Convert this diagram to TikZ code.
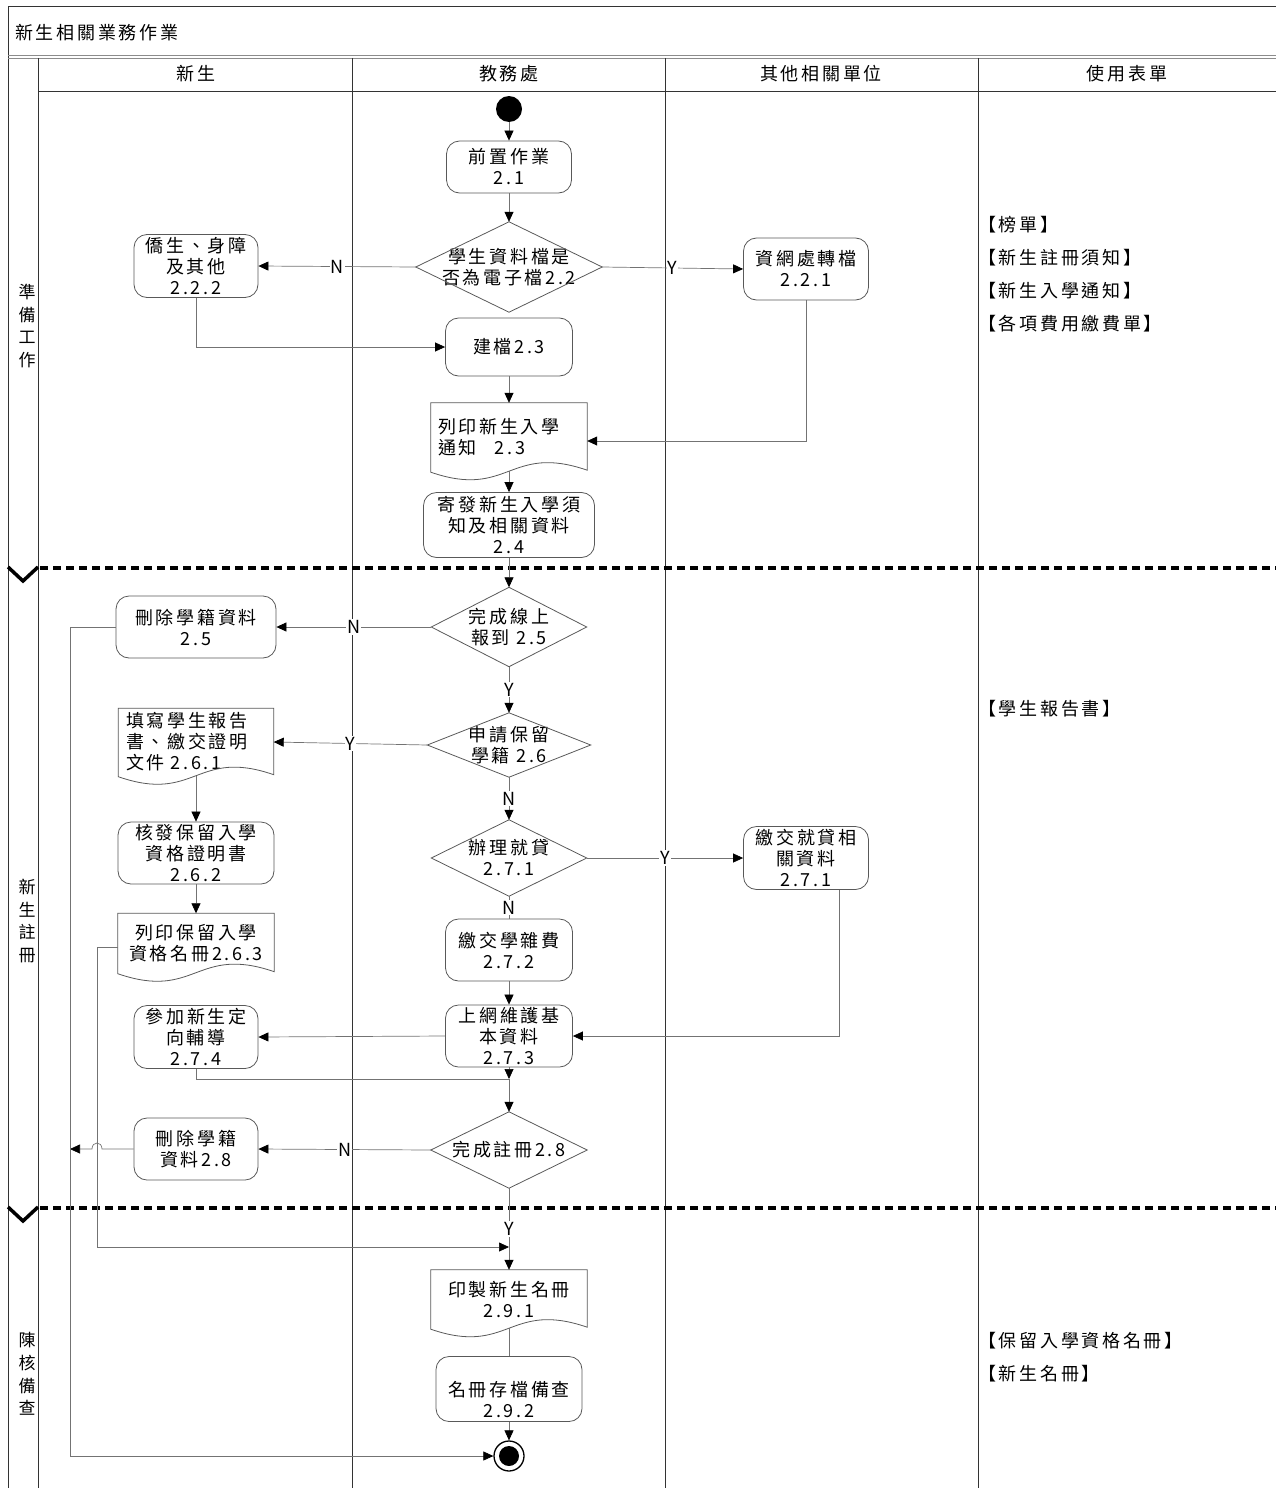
\documentclass[tikz,border=0pt]{standalone}
\usepackage{fontspec}
\setmainfont{Noto Sans CJK TC}[LetterSpace=15]
\usetikzlibrary{arrows.meta,calc}
\newcommand\myfont{\fontsize{18}{21}\selectfont}
\newcommand\lanefont{\fontsize{17}{22.7}\selectfont}
\newcommand\docshape[1]{\draw[shapeln] (#1.south west) -- (#1.north west) -- (#1.north east) -- ($(#1.south east)+(0,-1)$) .. controls ($(#1.south)+(0,-28)$) and ($(#1.south)+(0,28)$) .. ($(#1.south west)+(0,1)$) -- cycle;}
\tikzset{
  frame/.style={draw=black!80, line width=1pt},
  shapeln/.style={draw=black!65, line width=0.8pt},
  box/.style={shapeln, fill=white, rounded corners=13pt, align=center, inner sep=0pt, font=\myfont},
  dia/.style={align=center, inner sep=0pt, font=\myfont},
  docn/.style={align=center, inner sep=0pt, font=\myfont},
  conn/.style={draw=black!55, line width=0.7pt},
  arr/.style={conn, -{Triangle[length=10pt,width=9pt,color=black]}},
  lab/.style={fill=white, inner sep=1pt, font=\myfont},
  head/.style={font=\myfont},
  form/.style={anchor=west, inner sep=0pt, font=\myfont},
  lanelab/.style={align=center, inner sep=0pt, font=\lanefont},
  phase/.style={draw=black, line width=3.5pt, dash pattern=on 8pt off 5pt},
  chev/.style={draw=black, line width=3.5pt},
}
\begin{document}
\begin{tikzpicture}[x=1pt,y=-1pt]
\useasboundingbox (0,0) rectangle (1276,1488);
% frame and lanes
\draw[frame] (8,1488) -- (8,7) -- (1276,7);
\draw[draw=black!45, line width=0.8pt] (8,55.5) -- (1276,55.5);
\draw[draw=black!45, line width=0.8pt] (8,58.5) -- (1276,58.5);
\draw[frame] (38,58) -- (38,1488);
\draw[frame] (38,91) -- (1276,91);
\foreach \x in {352,665,978} \draw[frame] (\x,58) -- (\x,1488);
\node[anchor=west, inner sep=0pt, font=\myfont] (title) at (15,33) {新生相關業務作業};
\node[head] (h1) at (196,74) {新生};
\node[head] (h2) at (509,74) {教務處};
\node[head] (h3) at (821,74) {其他相關單位};
\node[head] (h4) at (1127,74) {使用表單};
\node[lanelab] (p1) at (27,326) {準\\備\\工\\作};
\node[lanelab] (p2) at (27,921) {新\\生\\註\\冊};
\node[lanelab] (p3) at (27,1374) {陳\\核\\備\\查};
\draw[phase] (40,568) -- (1276,568);
\draw[chev] (8,567) -- (23,581) -- (38,567);
\draw[phase] (40,1208) -- (1276,1208);
\draw[chev] (8,1207) -- (23,1221) -- (38,1207);
% forms
\node[form] (f1) at (978,225) {【榜單】};
\node[form] (f2) at (978,258) {【新生註冊須知】};
\node[form] (f3) at (978,291) {【新生入學通知】};
\node[form] (f4) at (978,324) {【各項費用繳費單】};
\node[form] (f5) at (978,709) {【學生報告書】};
\node[form] (f6) at (978,1341) {【保留入學資格名冊】};
\node[form] (f7) at (978,1374) {【新生名冊】};
% nodes
\node[circle, fill=black, minimum size=26pt, inner sep=0pt] (start) at (509,109) {};
\node[box, minimum width=125pt, minimum height=52pt] (n21) at (509,167) {前置作業\\2.1};
\node[dia, minimum width=186pt, minimum height=90pt] (d22) at (509,267) {學生資料檔是\\否為電子檔2.2};
\node[box, minimum width=124pt, minimum height=63pt] (n222) at (196,266) {僑生、身障\\及其他\\2.2.2};
\node[box, minimum width=125pt, minimum height=62pt] (n221) at (806,269) {資網處轉檔\\2.2.1};
\node[box, minimum width=127pt, minimum height=58pt] (n23) at (509,347) {建檔2.3};
\node[docn, align=left, text width=142pt, minimum width=156pt, minimum height=68pt] (doc23) at (509,437) {列印新生入學\\通知\quad 2.3};
\node[box, minimum width=171pt, minimum height=65pt] (n24) at (509,525) {寄發新生入學須\\知及相關資料\\2.4};
\node[dia, minimum width=155pt, minimum height=79pt] (d25) at (509,627) {完成線上\\報到 2.5};
\node[box, minimum width=160pt, minimum height=62pt] (n25x) at (196,627) {刪除學籍資料\\2.5};
\node[dia, minimum width=163pt, minimum height=64pt] (d26) at (509,745) {申請保留\\學籍 2.6};
\node[docn, align=left, text width=140pt, minimum width=155pt, minimum height=67pt] (doc261) at (196,742) {填寫學生報告\\書、繳交證明\\文件 2.6.1};
\node[dia, minimum width=155pt, minimum height=76pt] (d271) at (509,858) {辦理就貸\\2.7.1};
\node[box, minimum width=125pt, minimum height=63pt] (n271) at (806,858) {繳交就貸相\\關資料\\2.7.1};
\node[box, minimum width=156pt, minimum height=62pt] (n262) at (196,853) {核發保留入學\\資格證明書\\2.6.2};
\node[docn, minimum width=156pt, minimum height=59pt] (doc263) at (196,943) {列印保留入學\\資格名冊2.6.3};
\node[box, minimum width=127pt, minimum height=62pt] (n272) at (509,950) {繳交學雜費\\2.7.2};
\node[box, minimum width=127pt, minimum height=62pt] (n273) at (509,1036) {上網維護基\\本資料\\2.7.3};
\node[box, minimum width=124pt, minimum height=63pt] (n274) at (196,1037) {參加新生定\\向輔導\\2.7.4};
\coordinate (m1) at (509,1079);
\node[dia, minimum width=156pt, minimum height=76pt] (d28) at (509,1150) {完成註冊2.8};
\node[box, minimum width=124pt, minimum height=62pt] (n28x) at (196,1149) {刪除學籍\\資料2.8};
\node[docn, minimum width=156pt, minimum height=58pt] (doc291) at (509,1299) {印製新生名冊\\2.9.1};
\node[box, minimum width=146pt, minimum height=65pt] (n292) at (509,1389) {\strut\\名冊存檔備查\\2.9.2};
\node[circle, draw=black, line width=1.3pt, fill=white, minimum size=30pt, inner sep=0pt] (end) at (509,1456) {};
\node[circle, fill=black, minimum size=20pt, inner sep=0pt] (endin) at (end) {};
% outlines
\foreach \n in {d22,d25,d26,d271,d28} \draw[shapeln] (\n.north) -- (\n.east) -- (\n.south) -- (\n.west) -- cycle;
\docshape{doc23}
\docshape{doc261}
\docshape{doc263}
\docshape{doc291}
% connectors
\draw[arr] (start) -- (n21);
\draw[arr] (n21.south) -- (d22.north);
\draw[arr] (d22.west) -- node[lab]{N} (n222.east);
\draw[arr] (d22.east) -- node[lab]{Y} (n221.west);
\draw[arr] (n222.south) |- (n23.west);
\draw[arr] (n23.south) -- (doc23.north);
\draw[arr] (n221.south) |- ($(doc23.east)+(0,4)$);
\draw[arr] (doc23.south) -- (n24.north);
\draw[arr] (n24.south) -- (d25.north);
\draw[arr] (d25.west) -- node[lab]{N} (n25x.east);
\draw[arr] (d25.south) -- node[lab]{Y} (d26.north);
\draw[arr] (d26.west) -- node[lab]{Y} (doc261.east);
\draw[arr] (doc261.south) -- (n262.north);
\draw[arr] (n262.south) -- (doc263.north);
\draw[arr] (d26.south) -- node[lab]{N} (d271.north);
\draw[arr] (d271.east) -- node[lab]{Y} (n271.west);
\draw[conn] (d271.south) -- node[lab]{N} (n272.north);
\draw[arr] (n272.south) -- (n273.north);
\draw[arr] ($(n271.south east)+(-30,0)$) |- (n273.east);
\draw[arr] (n273.west) -- (n274.east);
\draw[arr] (n273.south) -- (m1);
\draw[conn] (n274.south) |- (m1);
\draw[arr] (m1) -- (d28.north);
\draw[arr] (d28.west) -- node[lab]{N} (n28x.east);
\coordinate (jL) at (70,1149);
\draw[arr] (n28x.west) -- (102,1149) .. controls (102,1141) and (92,1141) .. (92,1149) -- (jL);
\draw[arr] (n25x.west) -- (70,627) |- (end.west);
\coordinate (m2) at (509,1247);
\draw[arr] ($(doc263.west)+(0,4)$) -- (97,947) |- (m2);
\draw[arr] (d28.south) -- node[lab]{Y} (doc291.north);
\draw[conn] (doc291.south) -- (n292.north);
\draw[arr] (n292.south) -- (end.north);
\end{tikzpicture}
\end{document}
